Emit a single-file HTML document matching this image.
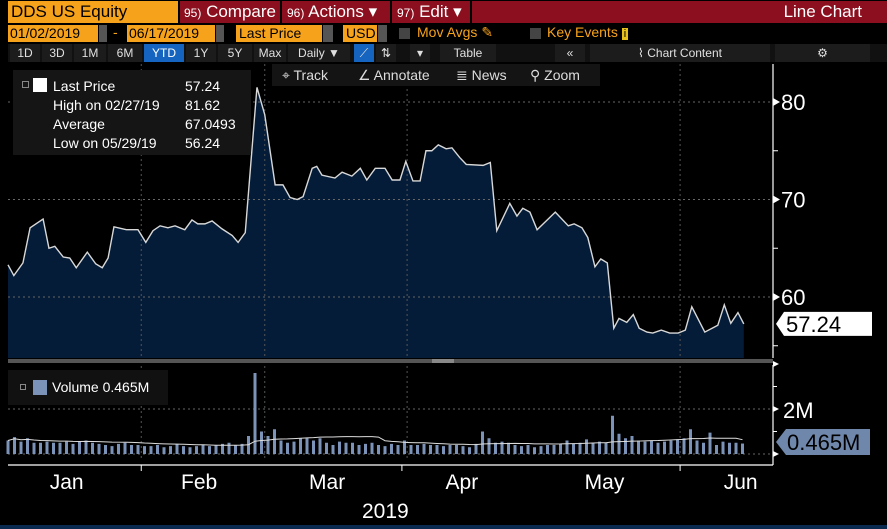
<!DOCTYPE html>
<html><head><meta charset="utf-8">
<style>
body{margin:0;width:887px;height:529px;background:#000;overflow:hidden;font-family:"Liberation Sans",sans-serif;color:#fff;position:relative}
.a{position:absolute;white-space:nowrap;box-sizing:border-box}
.or{background:#f7a21b;color:#000}
.rd{background:#8b0f1e;color:#fff}
.gb{background:#1c1c1c;color:#e0e0e0;font-size:12px;text-align:center;line-height:18px}
</style></head><body>
<div class="a or" style="left:8px;top:1px;width:170px;height:22px;font-size:17px;line-height:22px;padding-left:3px">DDS US Equity</div>
<div class="a rd" style="left:180px;top:1px;width:100px;height:22px;font-size:17px;line-height:22px;padding-left:4px"><span style="font-size:12px">95)</span> Compare</div>
<div class="a rd" style="left:282px;top:1px;width:108px;height:22px;font-size:17px;line-height:22px;padding-left:5px"><span style="font-size:12px">96)</span> Actions ▾</div>
<div class="a rd" style="left:392px;top:1px;width:78px;height:22px;font-size:17px;line-height:22px;padding-left:5px"><span style="font-size:12px">97)</span> Edit ▾</div>
<div class="a rd" style="left:472px;top:1px;width:415px;height:22px;font-size:17px;line-height:22px;text-align:right;padding-right:25px">Line Chart</div>
<div class="a or" style="left:8px;top:25px;width:90px;height:17px;font-size:14px;line-height:17px;padding-left:2px">01/02/2019</div>
<div class="a" style="left:99px;top:25px;width:8px;height:17px;background:#555"></div>
<div class="a" style="left:113px;top:24px;font-size:14px;color:#f7a21b">-</div>
<div class="a or" style="left:127px;top:25px;width:88px;height:17px;font-size:14px;line-height:17px;padding-left:2px">06/17/2019</div>
<div class="a" style="left:216px;top:25px;width:8px;height:17px;background:#555"></div>
<div class="a or" style="left:236px;top:25px;width:86px;height:17px;font-size:14px;line-height:17px;padding-left:3px">Last Price</div>
<div class="a" style="left:323px;top:25px;width:10px;height:17px;background:#555"></div>
<div class="a or" style="left:343px;top:25px;width:34px;height:17px;font-size:14px;line-height:17px;padding-left:3px">USD</div>
<div class="a" style="left:378px;top:25px;width:9px;height:17px;background:#555"></div>
<div class="a" style="left:399px;top:28px;width:11px;height:11px;background:#444"></div>
<div class="a" style="left:417px;top:24px;font-size:14px;color:#f7a21b">Mov Avgs ✎</div>
<div class="a" style="left:530px;top:28px;width:11px;height:11px;background:#444"></div>
<div class="a" style="left:547px;top:24px;font-size:14px;color:#f7a21b">Key Events <span style="background:#e8c21a;color:#000;font-size:11px;padding:0 2px">i</span></div>
<div class="a" style="left:8px;top:44px;width:879px;height:18px;background:#111"></div>
<div class="a gb" style="left:10px;top:44px;width:30px;height:18px">1D</div>
<div class="a gb" style="left:42px;top:44px;width:30px;height:18px">3D</div>
<div class="a gb" style="left:74px;top:44px;width:32px;height:18px">1M</div>
<div class="a gb" style="left:108px;top:44px;width:34px;height:18px">6M</div>
<div class="a gb" style="left:144px;top:44px;width:40px;height:18px;background:#1565c0;color:#fff">YTD</div>
<div class="a gb" style="left:186px;top:44px;width:30px;height:18px">1Y</div>
<div class="a gb" style="left:218px;top:44px;width:34px;height:18px">5Y</div>
<div class="a gb" style="left:254px;top:44px;width:32px;height:18px">Max</div>
<div class="a gb" style="left:288px;top:44px;width:62px;height:18px">Daily ▼</div>
<div class="a gb" style="left:354px;top:44px;width:20px;height:18px;background:#1565c0">⟋</div>
<div class="a gb" style="left:376px;top:44px;width:20px;height:18px">⇅</div>
<div class="a gb" style="left:410px;top:44px;width:20px;height:18px">▾</div>
<div class="a gb" style="left:440px;top:44px;width:56px;height:18px">Table</div>
<div class="a gb" style="left:555px;top:44px;width:30px;height:18px">«</div>
<div class="a gb" style="left:590px;top:44px;width:180px;height:18px">⌇ Chart Content</div>
<div class="a gb" style="left:775px;top:44px;width:95px;height:18px">⚙</div>

<svg class="a" style="left:0;top:0" width="887" height="529" id="svg"></svg>

<div class="a" style="left:13px;top:70px;width:238px;height:85px;background:#151515;font-size:14px;line-height:19px;padding:7px 0 0 40px">
<div class="a" style="left:9px;top:11px;width:7px;height:7px;border:1px solid #888"></div>
<div class="a" style="left:20px;top:8px;width:14px;height:14px;background:#fff"></div>
<div><span style="display:inline-block;width:132px">Last Price</span>57.24</div>
<div><span style="display:inline-block;width:132px">High on 02/27/19</span>81.62</div>
<div><span style="display:inline-block;width:132px">Average</span>67.0493</div>
<div><span style="display:inline-block;width:132px">Low on 05/29/19</span>56.24</div>
</div>
<div class="a" style="left:272px;top:64px;width:328px;height:22px;background:#141414;font-size:14px;color:#ddd;line-height:22px">
<span style="position:absolute;left:10px">⌖ Track</span>
<span style="position:absolute;left:86px">∠ Annotate</span>
<span style="position:absolute;left:184px">≣ News</span>
<span style="position:absolute;left:258px">⚲ Zoom</span>
</div>
<div class="a" style="left:8px;top:370px;width:160px;height:35px;background:#111;font-size:14px;line-height:35px;padding-left:44px">Volume 0.465M
<div class="a" style="left:12px;top:14px;width:6px;height:6px;border:1px solid #888"></div>
<div class="a" style="left:25px;top:10px;width:14px;height:15px;background:#7b93b8"></div></div>

<script>
const days=[0,0.9,2.3,3.4,5.4,6.3,7.2,8.5,9.5,10.5,12.2,13.5,14.5,15.4,16.3,18.2,20,21.2,22.3,23.4,24.6,25.7,27.2,28.3,29.2,30.3,31.4,32.9,34.5,35.4,36.5,38.3,39.5,41.1,42.3,43.4,44.5,45.4,46.8,47.5,48.3,50.3,51.4,52.9,54.2,55.2,56.5,58,59.1,60.3,61.2,62.3,63.4,64.3,65.2,66.2,67.4,68.3,69.5,70.5,73.1,74.2,75.2,77.2,78.3,79.2,80.3,81.4,84.2,86.2,87.1,88.3,89.2,90.3,91.2,92.2,93.2,94,95.2,96.2,97.1,98.3,99.2,100.5,101.8,103.1,104.2,105.2,107.2,109.2,110.2,111.2,112.3,113.2];
const prices=[63.3,62.2,63.5,67.1,68.0,65.0,65.2,64.1,64.0,63.0,64.6,63.4,63.0,64.0,67.2,66.9,66.9,65.6,66.8,67.3,67.1,67.3,66.9,67.9,67.5,67.5,67.8,67.0,66.3,65.6,66.6,81.5,78.7,71.5,71.5,70.2,70.0,70.3,73.2,73.4,72.5,72.2,72.8,72.4,73.2,72.0,73.2,73.2,72.0,72.0,73.9,71.9,71.9,75.0,75.0,75.6,75.2,75.3,74.3,73.6,73.5,73.8,66.8,69.6,68.3,69.1,68.7,66.9,68.7,67.3,67.5,67.1,66.1,63.1,63.9,63.5,56.8,57.8,57.4,58.2,56.8,56.4,56.3,56.6,56.3,56.3,56.6,59.0,56.4,57.1,59.2,57.3,58.4,57.24];
const volumes=[0.6,0.75,0.55,0.7,0.5,0.5,0.55,0.5,0.5,0.55,0.45,0.55,0.6,0.5,0.45,0.4,0.35,0.45,0.5,0.4,0.4,0.35,0.35,0.4,0.3,0.35,0.45,0.35,0.3,0.35,0.4,0.35,0.4,0.45,0.5,0.4,0.45,0.8,3.6,1.0,0.8,1.1,0.6,0.5,0.55,0.7,0.7,0.6,0.7,0.5,0.4,0.55,0.5,0.5,0.4,0.45,0.5,0.4,0.35,0.45,0.4,0.6,0.4,0.4,0.45,0.4,0.4,0.35,0.4,0.4,0.35,0.3,0.45,1.0,0.7,0.5,0.55,0.5,0.4,0.35,0.4,0.3,0.35,0.4,0.4,0.45,0.6,0.45,0.5,0.65,0.5,0.55,0.5,1.7,0.9,0.7,0.8,0.6,0.55,0.6,0.5,0.55,0.6,0.65,0.7,1.1,0.6,0.5,0.95,0.4,0.55,0.5,0.5,0.465];
const priceTicks=[60,70,80];
const volTicks=[2];
const months=["Jan","Feb","Mar","Apr","May","Jun"];
const monthDays=[9.8,30,49.7,70.7,92.1,113.5];
const gridDays=[20.5,39.5,61.4,103.4];
const monthTickDays=[20.5,60.6,103.4];

const NS="http://www.w3.org/2000/svg";
const svg=document.getElementById('svg');
const X=d=>8+d*6.5;
const Y=v=>102+(80-v)*9.75;
const VY=v=>454-v*22.5;
function el(t,a,p){const e=document.createElementNS(NS,t);for(const k in a)e.setAttribute(k,a[k]);(p||svg).appendChild(e);return e;}
let d='M'+X(days[0])+',358';
days.forEach((x,i)=>d+='L'+X(x)+','+Y(prices[i]));
d+='L'+X(days[days.length-1])+',358Z';
const area=el('path',{d:d,fill:'#041c38'});


priceTicks.forEach(t=>{const g=el('line',{x1:8,x2:773,y1:Y(t),y2:Y(t),stroke:'#666','stroke-dasharray':'2,3'});

});
gridDays.forEach(t=>{el('line',{x1:X(t),x2:X(t),y1:64,y2:358,stroke:'#555','stroke-dasharray':'2,3'});el('line',{x1:X(t),x2:X(t),y1:366,y2:458,stroke:'#555','stroke-dasharray':'2,3'});});
let lp='';days.forEach((x,i)=>lp+=(i?'L':'M')+X(x)+','+Y(prices[i]));
const line=el('path',{d:lp,fill:'none',stroke:'#d8d8d8','stroke-width':1.4});


el('rect',{x:8,y:359,width:765,height:4,fill:'#555'});
el('rect',{x:432,y:359,width:22,height:4,fill:'#888'});
el('line',{x1:773,x2:773,y1:64,y2:358,stroke:'#fff','stroke-width':1.2});
[75,65,55].forEach(t=>el('line',{x1:773,x2:778,y1:Y(t),y2:Y(t),stroke:'#fff'}));
priceTicks.forEach(t=>{el('path',{d:`M773,${Y(t)-4}L780,${Y(t)}L773,${Y(t)+4}Z`,fill:'#fff'});
const tx=el('text',{x:781,y:Y(t)+8,fill:'#fff','font-size':22,'font-family':'Liberation Sans'});tx.textContent=t;

});
const last=prices[prices.length-1];
el('path',{d:`M776,${Y(last)}L784,${Y(last)-12}L872,${Y(last)-12}L872,${Y(last)+12}L784,${Y(last)+12}Z`,fill:'#fff'});
const lt=el('text',{x:786,y:Y(last)+8,fill:'#000','font-size':22,'font-family':'Liberation Sans'});lt.textContent=last.toFixed(2);


volTicks.forEach(t=>el('line',{x1:8,x2:773,y1:VY(t),y2:VY(t),stroke:'#666','stroke-dasharray':'2,3'}));
el('line',{x1:8,x2:773,y1:VY(0),y2:VY(0),stroke:'#666','stroke-dasharray':'2,3'});
volumes.forEach((v,i)=>{const b=el('rect',{x:X(i)-1.5,y:VY(v),width:3,height:v*22.5,fill:'#7b93b8'});

});
let ma='';volumes.forEach((v,i)=>{const s=volumes.slice(Math.max(0,i-19),i+1);const m=s.reduce((a,b)=>a+b,0)/s.length;ma+=(i?'L':'M')+X(i)+','+VY(m);});
const mal=el('path',{d:ma,fill:'none',stroke:'#ddd','stroke-width':1});


el('line',{x1:773,x2:773,y1:365,y2:465,stroke:'#fff','stroke-width':1.2});
el('line',{x1:8,x2:773,y1:465,y2:465,stroke:'#fff','stroke-width':1.2});
[4,2,0].forEach(t=>el('path',{d:`M773,${VY(t)-3}L779,${VY(t)}L773,${VY(t)+3}Z`,fill:'#fff'}));
[3,1].forEach(t=>el('line',{x1:773,x2:777,y1:VY(t),y2:VY(t),stroke:'#fff'}));
volTicks.forEach(t=>{const tx=el('text',{x:783,y:VY(t)+9,fill:'#fff','font-size':22,'font-family':'Liberation Sans'});tx.textContent=t+'M';

});
const lv=volumes[volumes.length-1];
el('path',{d:`M776,442L786,429L870,429L870,455L786,455Z`,fill:'#6f87aa'});
const vt=el('text',{x:787,y:450,fill:'#000','font-size':22,'font-family':'Liberation Sans'});vt.textContent=lv+'M';


monthTickDays.forEach(t=>el('line',{x1:X(t),x2:X(t),y1:465,y2:471,stroke:'#fff'}));
months.forEach((m,i)=>{const tx=el('text',{x:X(monthDays[i])-22,y:489,fill:'#fff','font-size':21,'font-family':'Liberation Sans'});tx.textContent=m;

});
const yr=el('text',{x:362,y:518,fill:'#fff','font-size':21,'font-family':'Liberation Sans'});yr.textContent='2019';


el('rect',{x:0,y:525,width:887,height:4,fill:'#0a2a50'});
</script>
</body></html>
